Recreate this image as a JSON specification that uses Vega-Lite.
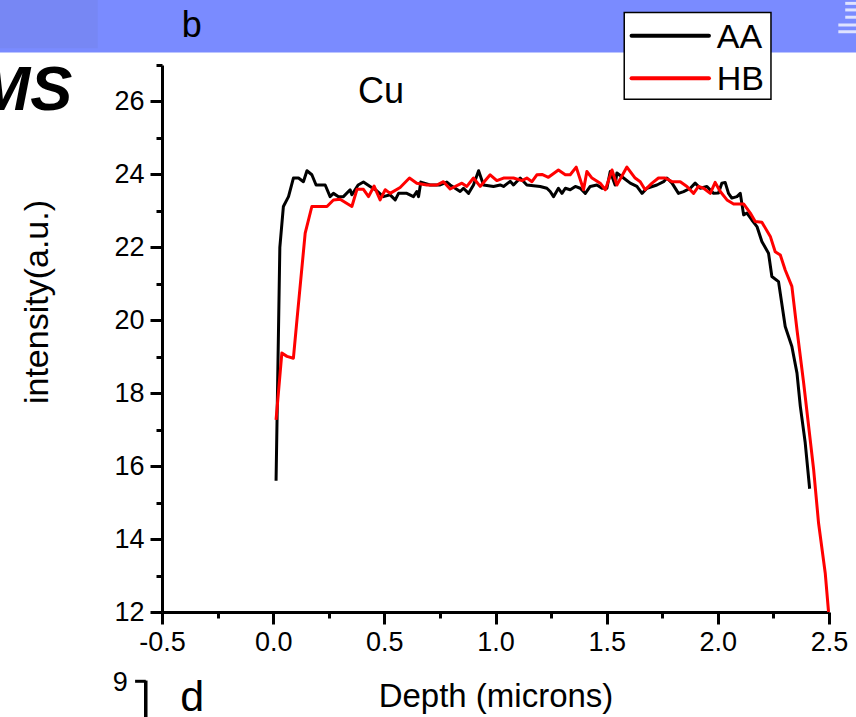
{
  "$schema": "https://vega.github.io/schema/vega-lite/v6.json",
  "width": 667,
  "height": 547,
  "autosize": {"type": "none"},
  "padding": {"left": 162, "top": 65, "right": 27, "bottom": 105},
  "background": "white",
  "config": {"view": {"stroke": null}, "font": "Liberation Sans"},
  "datasets": {
    "profile": [
      {"sample":"AA","depth":0.013,"intensity":15.6},
      {"sample":"AA","depth":0.03,"intensity":22.0},
      {"sample":"AA","depth":0.046,"intensity":23.12},
      {"sample":"AA","depth":0.069,"intensity":23.39},
      {"sample":"AA","depth":0.091,"intensity":23.9},
      {"sample":"AA","depth":0.114,"intensity":23.9},
      {"sample":"AA","depth":0.136,"intensity":23.8},
      {"sample":"AA","depth":0.152,"intensity":24.1},
      {"sample":"AA","depth":0.174,"intensity":23.99},
      {"sample":"AA","depth":0.193,"intensity":23.71},
      {"sample":"AA","depth":0.234,"intensity":23.71},
      {"sample":"AA","depth":0.256,"intensity":23.39},
      {"sample":"AA","depth":0.271,"intensity":23.48},
      {"sample":"AA","depth":0.294,"intensity":23.39},
      {"sample":"AA","depth":0.316,"intensity":23.39},
      {"sample":"AA","depth":0.346,"intensity":23.58},
      {"sample":"AA","depth":0.354,"intensity":23.44},
      {"sample":"AA","depth":0.382,"intensity":23.71},
      {"sample":"AA","depth":0.406,"intensity":23.79},
      {"sample":"AA","depth":0.436,"intensity":23.67},
      {"sample":"AA","depth":0.466,"intensity":23.55},
      {"sample":"AA","depth":0.496,"intensity":23.39},
      {"sample":"AA","depth":0.526,"intensity":23.44},
      {"sample":"AA","depth":0.549,"intensity":23.3},
      {"sample":"AA","depth":0.564,"intensity":23.48},
      {"sample":"AA","depth":0.601,"intensity":23.48},
      {"sample":"AA","depth":0.631,"intensity":23.39},
      {"sample":"AA","depth":0.646,"intensity":23.53},
      {"sample":"AA","depth":0.654,"intensity":23.39},
      {"sample":"AA","depth":0.664,"intensity":23.79},
      {"sample":"AA","depth":0.706,"intensity":23.71},
      {"sample":"AA","depth":0.751,"intensity":23.71},
      {"sample":"AA","depth":0.781,"intensity":23.79},
      {"sample":"AA","depth":0.796,"intensity":23.71},
      {"sample":"AA","depth":0.841,"intensity":23.53},
      {"sample":"AA","depth":0.856,"intensity":23.62},
      {"sample":"AA","depth":0.879,"intensity":23.48},
      {"sample":"AA","depth":0.901,"intensity":23.71},
      {"sample":"AA","depth":0.924,"intensity":24.1},
      {"sample":"AA","depth":0.946,"intensity":23.71},
      {"sample":"AA","depth":0.991,"intensity":23.67},
      {"sample":"AA","depth":1.021,"intensity":23.71},
      {"sample":"AA","depth":1.036,"intensity":23.67},
      {"sample":"AA","depth":1.066,"intensity":23.81},
      {"sample":"AA","depth":1.081,"intensity":23.71},
      {"sample":"AA","depth":1.111,"intensity":23.9},
      {"sample":"AA","depth":1.141,"intensity":23.71},
      {"sample":"AA","depth":1.201,"intensity":23.67},
      {"sample":"AA","depth":1.231,"intensity":23.62},
      {"sample":"AA","depth":1.246,"intensity":23.53},
      {"sample":"AA","depth":1.261,"intensity":23.39},
      {"sample":"AA","depth":1.283,"intensity":23.62},
      {"sample":"AA","depth":1.299,"intensity":23.48},
      {"sample":"AA","depth":1.314,"intensity":23.62},
      {"sample":"AA","depth":1.336,"intensity":23.58},
      {"sample":"AA","depth":1.359,"intensity":23.67},
      {"sample":"AA","depth":1.381,"intensity":23.62},
      {"sample":"AA","depth":1.404,"intensity":23.48},
      {"sample":"AA","depth":1.426,"intensity":23.67},
      {"sample":"AA","depth":1.456,"intensity":23.71},
      {"sample":"AA","depth":1.479,"intensity":23.62},
      {"sample":"AA","depth":1.501,"intensity":23.62},
      {"sample":"AA","depth":1.516,"intensity":24.08},
      {"sample":"AA","depth":1.538,"intensity":23.71},
      {"sample":"AA","depth":1.546,"intensity":24.04},
      {"sample":"AA","depth":1.576,"intensity":23.9},
      {"sample":"AA","depth":1.606,"intensity":23.76},
      {"sample":"AA","depth":1.636,"intensity":23.67},
      {"sample":"AA","depth":1.659,"intensity":23.48},
      {"sample":"AA","depth":1.681,"intensity":23.62},
      {"sample":"AA","depth":1.726,"intensity":23.71},
      {"sample":"AA","depth":1.756,"intensity":23.8},
      {"sample":"AA","depth":1.771,"intensity":23.9},
      {"sample":"AA","depth":1.794,"intensity":23.76},
      {"sample":"AA","depth":1.823,"intensity":23.48},
      {"sample":"AA","depth":1.846,"intensity":23.53},
      {"sample":"AA","depth":1.876,"intensity":23.62},
      {"sample":"AA","depth":1.898,"intensity":23.76},
      {"sample":"AA","depth":1.921,"intensity":23.62},
      {"sample":"AA","depth":1.951,"intensity":23.67},
      {"sample":"AA","depth":1.981,"intensity":23.48},
      {"sample":"AA","depth":2.003,"intensity":23.49},
      {"sample":"AA","depth":2.018,"intensity":23.76},
      {"sample":"AA","depth":2.033,"intensity":23.78},
      {"sample":"AA","depth":2.048,"intensity":23.48},
      {"sample":"AA","depth":2.063,"intensity":23.35},
      {"sample":"AA","depth":2.086,"intensity":23.39},
      {"sample":"AA","depth":2.101,"intensity":23.48},
      {"sample":"AA","depth":2.116,"intensity":22.89},
      {"sample":"AA","depth":2.131,"intensity":22.94},
      {"sample":"AA","depth":2.153,"intensity":22.75},
      {"sample":"AA","depth":2.176,"intensity":22.57},
      {"sample":"AA","depth":2.198,"intensity":22.16},
      {"sample":"AA","depth":2.228,"intensity":21.84},
      {"sample":"AA","depth":2.243,"intensity":21.2},
      {"sample":"AA","depth":2.273,"intensity":21.06},
      {"sample":"AA","depth":2.303,"intensity":19.83},
      {"sample":"AA","depth":2.333,"intensity":19.28},
      {"sample":"AA","depth":2.356,"intensity":18.55},
      {"sample":"AA","depth":2.371,"intensity":17.64},
      {"sample":"AA","depth":2.393,"intensity":16.64},
      {"sample":"AA","depth":2.413,"intensity":15.38},
      {"sample":"HB","depth":0.013,"intensity":17.27},
      {"sample":"HB","depth":0.039,"intensity":19.1},
      {"sample":"HB","depth":0.062,"intensity":19.01},
      {"sample":"HB","depth":0.091,"intensity":18.96},
      {"sample":"HB","depth":0.107,"intensity":20.01},
      {"sample":"HB","depth":0.144,"intensity":22.39},
      {"sample":"HB","depth":0.174,"intensity":23.12},
      {"sample":"HB","depth":0.242,"intensity":23.12},
      {"sample":"HB","depth":0.271,"intensity":23.3},
      {"sample":"HB","depth":0.301,"intensity":23.32},
      {"sample":"HB","depth":0.354,"intensity":23.12},
      {"sample":"HB","depth":0.377,"intensity":23.59},
      {"sample":"HB","depth":0.406,"intensity":23.59},
      {"sample":"HB","depth":0.429,"intensity":23.39},
      {"sample":"HB","depth":0.454,"intensity":23.68},
      {"sample":"HB","depth":0.481,"intensity":23.3},
      {"sample":"HB","depth":0.504,"intensity":23.58},
      {"sample":"HB","depth":0.526,"intensity":23.48},
      {"sample":"HB","depth":0.571,"intensity":23.64},
      {"sample":"HB","depth":0.613,"intensity":23.9},
      {"sample":"HB","depth":0.646,"intensity":23.76},
      {"sample":"HB","depth":0.691,"intensity":23.71},
      {"sample":"HB","depth":0.736,"intensity":23.71},
      {"sample":"HB","depth":0.766,"intensity":23.8},
      {"sample":"HB","depth":0.796,"intensity":23.6},
      {"sample":"HB","depth":0.849,"intensity":23.76},
      {"sample":"HB","depth":0.871,"intensity":23.67},
      {"sample":"HB","depth":0.901,"intensity":23.9},
      {"sample":"HB","depth":0.931,"intensity":23.67},
      {"sample":"HB","depth":0.976,"intensity":23.99},
      {"sample":"HB","depth":1.006,"intensity":23.83},
      {"sample":"HB","depth":1.036,"intensity":23.9},
      {"sample":"HB","depth":1.081,"intensity":23.9},
      {"sample":"HB","depth":1.119,"intensity":23.83},
      {"sample":"HB","depth":1.141,"intensity":23.9},
      {"sample":"HB","depth":1.164,"intensity":23.8},
      {"sample":"HB","depth":1.186,"intensity":23.99},
      {"sample":"HB","depth":1.209,"intensity":24.0},
      {"sample":"HB","depth":1.238,"intensity":23.92},
      {"sample":"HB","depth":1.283,"intensity":24.12},
      {"sample":"HB","depth":1.314,"intensity":23.99},
      {"sample":"HB","depth":1.336,"intensity":23.99},
      {"sample":"HB","depth":1.363,"intensity":24.2},
      {"sample":"HB","depth":1.396,"intensity":23.58},
      {"sample":"HB","depth":1.411,"intensity":24.08},
      {"sample":"HB","depth":1.434,"intensity":23.9},
      {"sample":"HB","depth":1.471,"intensity":23.76},
      {"sample":"HB","depth":1.494,"intensity":23.58},
      {"sample":"HB","depth":1.524,"intensity":24.12},
      {"sample":"HB","depth":1.546,"intensity":23.71},
      {"sample":"HB","depth":1.591,"intensity":24.2},
      {"sample":"HB","depth":1.628,"intensity":23.9},
      {"sample":"HB","depth":1.651,"intensity":23.8},
      {"sample":"HB","depth":1.673,"intensity":23.58},
      {"sample":"HB","depth":1.704,"intensity":23.76},
      {"sample":"HB","depth":1.733,"intensity":23.9},
      {"sample":"HB","depth":1.763,"intensity":23.9},
      {"sample":"HB","depth":1.794,"intensity":23.8},
      {"sample":"HB","depth":1.831,"intensity":23.8},
      {"sample":"HB","depth":1.861,"intensity":23.67},
      {"sample":"HB","depth":1.891,"intensity":23.48},
      {"sample":"HB","depth":1.913,"intensity":23.67},
      {"sample":"HB","depth":1.936,"intensity":23.62},
      {"sample":"HB","depth":1.966,"intensity":23.48},
      {"sample":"HB","depth":1.988,"intensity":23.78},
      {"sample":"HB","depth":2.011,"intensity":23.53},
      {"sample":"HB","depth":2.041,"intensity":23.3},
      {"sample":"HB","depth":2.071,"intensity":23.19},
      {"sample":"HB","depth":2.116,"intensity":23.19},
      {"sample":"HB","depth":2.146,"intensity":22.94},
      {"sample":"HB","depth":2.168,"intensity":22.71},
      {"sample":"HB","depth":2.198,"intensity":22.69},
      {"sample":"HB","depth":2.236,"intensity":22.3},
      {"sample":"HB","depth":2.258,"intensity":21.88},
      {"sample":"HB","depth":2.281,"intensity":21.79},
      {"sample":"HB","depth":2.303,"intensity":21.38},
      {"sample":"HB","depth":2.333,"intensity":20.93},
      {"sample":"HB","depth":2.356,"intensity":19.74},
      {"sample":"HB","depth":2.386,"intensity":18.28},
      {"sample":"HB","depth":2.431,"intensity":15.9},
      {"sample":"HB","depth":2.453,"intensity":14.44},
      {"sample":"HB","depth":2.483,"intensity":13.07},
      {"sample":"HB","depth":2.498,"intensity":12.0}
    ]
  },
  "resolve": {"axis": {"x": "independent", "y": "independent"}},
  "layer": [
    {
      "data": {"values": [{"part": "header band"}]},
      "mark": {"type": "rect", "color": "#7a8bff"},
      "encoding": {
        "x": {"datum": -1.3, "type": "quantitative", "scale": {"domain": [-0.5, 2.5], "nice": false, "zero": false}, "axis": null},
        "x2": {"datum": 2.7},
        "y": {"datum": 27.34, "type": "quantitative", "scale": {"domain": [12, 27], "nice": false, "zero": false}, "axis": null},
        "y2": {"datum": 29.5}
      }
    },
    {
      "data": {"values": [{"part": "header left"}]},
      "mark": {"type": "rect", "color": "#7787f4"},
      "encoding": {
        "x": {"datum": -1.3, "type": "quantitative", "axis": null},
        "x2": {"datum": -0.789},
        "y": {"datum": 27.46, "type": "quantitative", "axis": null},
        "y2": {"datum": 29.5}
      }
    },
    {
      "data": {"values": [{"part": "icon"}]},
      "mark": {"type": "rule", "color": "#dfe3ff", "strokeWidth": 3},
      "encoding": {"x": {"datum": 2.573, "type": "quantitative", "axis": null}, "x2": {"datum": 2.7}, "y": {"datum": 28.69, "type": "quantitative", "axis": null}}
    },
    {
      "data": {"values": [{"part": "icon"}]},
      "mark": {"type": "rule", "color": "#dfe3ff", "strokeWidth": 3},
      "encoding": {"x": {"datum": 2.573, "type": "quantitative", "axis": null}, "x2": {"datum": 2.7}, "y": {"datum": 28.51, "type": "quantitative", "axis": null}}
    },
    {
      "data": {"values": [{"part": "icon"}]},
      "mark": {"type": "rule", "color": "#dfe3ff", "strokeWidth": 3},
      "encoding": {"x": {"datum": 2.573, "type": "quantitative", "axis": null}, "x2": {"datum": 2.7}, "y": {"datum": 28.31, "type": "quantitative", "axis": null}}
    },
    {
      "data": {"values": [{"part": "icon"}]},
      "mark": {"type": "rule", "color": "#dfe3ff", "strokeWidth": 3},
      "encoding": {"x": {"datum": 2.542, "type": "quantitative", "axis": null}, "x2": {"datum": 2.7}, "y": {"datum": 28.1, "type": "quantitative", "axis": null}}
    },
    {
      "data": {"values": [{"part": "icon"}]},
      "mark": {"type": "rule", "color": "#dfe3ff", "strokeWidth": 3},
      "encoding": {"x": {"datum": 2.542, "type": "quantitative", "axis": null}, "x2": {"datum": 2.7}, "y": {"datum": 27.91, "type": "quantitative", "axis": null}}
    },
    {
      "data": {"values": [{"label": "b"}]},
      "mark": {"type": "text", "fontSize": 36, "align": "center", "baseline": "alphabetic", "color": "black"},
      "encoding": {"x": {"datum": -0.366, "type": "quantitative", "axis": null}, "y": {"datum": 27.77, "type": "quantitative", "axis": null}, "text": {"field": "label"}}
    },
    {
      "data": {"values": [{"label": "MS"}]},
      "mark": {"type": "text", "fontSize": 63, "fontWeight": "bold", "fontStyle": "italic", "align": "right", "baseline": "alphabetic", "color": "black"},
      "encoding": {"x": {"datum": -0.904, "type": "quantitative", "axis": null}, "y": {"datum": 25.77, "type": "quantitative", "axis": null}, "text": {"field": "label"}}
    },
    {
      "data": {"values": [{"label": "Cu"}]},
      "mark": {"type": "text", "fontSize": 36, "align": "center", "baseline": "alphabetic", "color": "black"},
      "encoding": {"x": {"datum": 0.485, "type": "quantitative", "axis": null}, "y": {"datum": 25.97, "type": "quantitative", "axis": null}, "text": {"field": "label"}}
    },
    {
      "data": {"values": [{"label": "9"}]},
      "mark": {"type": "text", "fontSize": 27, "align": "center", "baseline": "alphabetic", "color": "black"},
      "encoding": {"x": {"datum": -0.688, "type": "quantitative", "axis": null}, "y": {"datum": 9.82, "type": "quantitative", "axis": null}, "text": {"field": "label"}}
    },
    {
      "data": {"values": [{"label": "d"}]},
      "mark": {"type": "text", "fontSize": 43, "align": "center", "baseline": "alphabetic", "color": "black"},
      "encoding": {"x": {"datum": -0.364, "type": "quantitative", "axis": null}, "y": {"datum": 9.29, "type": "quantitative", "axis": null}, "text": {"field": "label"}}
    },
    {
      "data": {"values": [{"part": "panel d axis"}]},
      "mark": {"type": "rule", "color": "black", "strokeWidth": 3.5},
      "encoding": {"x": {"datum": -0.573, "type": "quantitative", "axis": null}, "y": {"datum": 10.12, "type": "quantitative", "axis": null}, "y2": {"datum": 8.9}}
    },
    {
      "data": {"values": [{"part": "panel d tick"}]},
      "mark": {"type": "rule", "color": "black", "strokeWidth": 3},
      "encoding": {"x": {"datum": -0.621, "type": "quantitative", "axis": null}, "x2": {"datum": -0.573}, "y": {"datum": 10.1, "type": "quantitative", "axis": null}}
    },
    {
      "data": {"values": [{"part": "legend box"}]},
      "mark": {"type": "rect", "fill": "white", "stroke": "black", "strokeWidth": 1.5},
      "encoding": {"x": {"datum": 1.579, "type": "quantitative", "axis": null}, "x2": {"datum": 2.239}, "y": {"datum": 28.44, "type": "quantitative", "axis": null}, "y2": {"datum": 26.06}}
    },
    {
      "data": {"values": [{"sample": "AA"}]},
      "mark": {"type": "rule", "strokeWidth": 4, "strokeCap": "round"},
      "encoding": {"x": {"datum": 1.612, "type": "quantitative", "axis": null}, "x2": {"datum": 1.96}, "y": {"datum": 27.8, "type": "quantitative", "axis": null}, "color": {"field": "sample", "type": "nominal", "scale": {"domain": ["AA", "HB"], "range": ["#000000", "#ff0000"]}, "legend": null}}
    },
    {
      "data": {"values": [{"sample": "HB"}]},
      "mark": {"type": "rule", "strokeWidth": 4, "strokeCap": "round"},
      "encoding": {"x": {"datum": 1.612, "type": "quantitative", "axis": null}, "x2": {"datum": 1.96}, "y": {"datum": 26.64, "type": "quantitative", "axis": null}, "color": {"field": "sample", "type": "nominal", "legend": null}}
    },
    {
      "data": {"values": [{"sample": "AA"}]},
      "mark": {"type": "text", "fontSize": 34, "align": "left", "baseline": "alphabetic", "color": "black"},
      "encoding": {"x": {"datum": 1.995, "type": "quantitative", "axis": null}, "y": {"datum": 27.46, "type": "quantitative", "axis": null}, "text": {"field": "sample"}}
    },
    {
      "data": {"values": [{"sample": "HB"}]},
      "mark": {"type": "text", "fontSize": 34, "align": "left", "baseline": "alphabetic", "color": "black"},
      "encoding": {"x": {"datum": 1.995, "type": "quantitative", "axis": null}, "y": {"datum": 26.32, "type": "quantitative", "axis": null}, "text": {"field": "sample"}}
    },
    {
      "data": {"name": "profile"},
      "mark": {"type": "point", "opacity": 0},
      "encoding": {
        "x": {"field": "depth", "type": "quantitative", "axis": {"orient": "bottom", "values": [-0.25, 0.25, 0.75, 1.25, 1.75, 2.25], "labels": false, "domain": false, "grid": false, "tickSize": 6, "tickWidth": 3, "tickColor": "black", "title": null}},
        "y": {"field": "intensity", "type": "quantitative", "axis": {"orient": "left", "values": [13, 15, 17, 19, 21, 23, 25, 27], "labels": false, "domain": false, "grid": false, "tickSize": 6, "tickWidth": 3, "tickColor": "black", "title": null}}
      }
    },
    {
      "data": {"name": "profile"},
      "mark": {"type": "line", "strokeWidth": 3, "strokeJoin": "round"},
      "encoding": {
        "x": {"field": "depth", "type": "quantitative",
          "axis": {"orient": "bottom", "values": [-0.5, 0, 0.5, 1, 1.5, 2, 2.5], "format": ".1f", "labelExpr": "replace(datum.label, '\u2212', '-')", "labelFont": "Liberation Sans", "labelFontSize": 27, "labelColor": "black", "labelPadding": 5, "labelFlush": false, "labelOverlap": false, "labelBound": false, "tickSize": 12, "tickWidth": 3, "tickColor": "black", "domainColor": "black", "domainWidth": 3, "grid": false, "title": "Depth (microns)", "titleFont": "Liberation Sans", "titleFontSize": 33, "titleFontWeight": "normal", "titleColor": "black", "titleY": 68}},
        "y": {"field": "intensity", "type": "quantitative",
          "axis": {"orient": "left", "values": [12, 14, 16, 18, 20, 22, 24, 26], "labelFont": "Liberation Sans", "labelFontSize": 27, "labelColor": "black", "labelPadding": 6, "labelFlush": false, "labelOverlap": false, "tickSize": 12, "tickWidth": 3, "tickColor": "black", "domainColor": "black", "domainWidth": 3, "grid": false, "title": "intensity(a.u.)", "titleFont": "Liberation Sans", "titleFontSize": 34, "titleFontWeight": "normal", "titleColor": "black", "titleX": -108, "titleY": 236.5}},
        "color": {"field": "sample", "type": "nominal", "legend": null}
      }
    }
  ]
}
